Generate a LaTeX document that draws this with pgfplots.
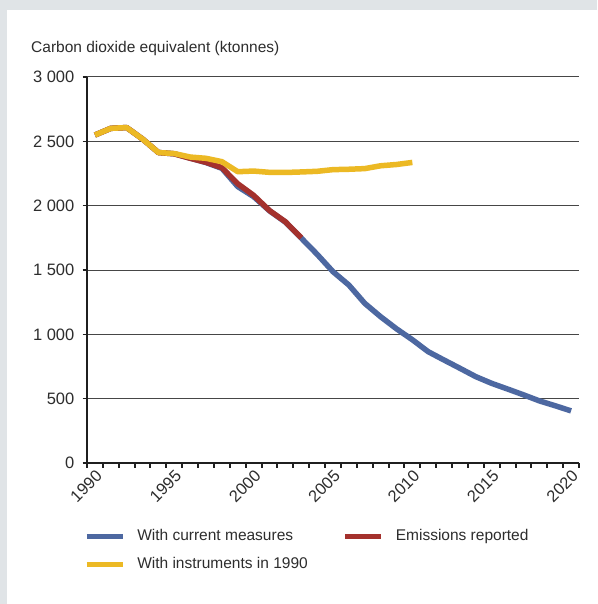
\documentclass[border=0pt]{standalone}
\usepackage{fontspec}
\setmainfont{Liberation Sans}
\usepackage{pgfplots}
\pgfplotsset{compat=1.18}
\definecolor{bgframe}{RGB}{224,228,231}
\definecolor{cblue}{RGB}{77,104,161}
\definecolor{cred}{RGB}{164,49,45}
\definecolor{cyellow}{RGB}{236,185,36}
\definecolor{txt}{RGB}{45,45,45}
\definecolor{gridc}{RGB}{70,70,70}
\begin{document}
\begin{tikzpicture}[x=1pt,y=1pt]
\fill[bgframe] (0,0) rectangle (597,-604);
\fill[white] (7,-10) rectangle (597,-604);
\node[anchor=base west, inner sep=0pt, text=txt, font=\fontsize{15.5}{18}\selectfont] at (31,-53) {Carbon dioxide equivalent (ktonnes)};
\begin{axis}[
  at={(87pt,-463pt)}, anchor=south west,
  scale only axis, width=492pt, height=386pt,
  xmin=1989.5, xmax=2020.5, ymin=0, ymax=3000,
  axis lines*=left,
  axis line style={-, line width=2.6pt, color=black!88},
  tick align=outside,
  major tick length=4.5pt, minor tick length=4.5pt,
  xtick={1990,1995,...,2020},
  xticklabels={1990,1995,2000,2005,2010,2015,2020},
  minor xtick={1989.5,1990.5,...,2020.5},
  major x tick style={draw=none},
  minor x tick style={line width=2pt, color=black!88},
  ytick={0,500,...,3000},
  yticklabels={0,500,1 000,1 500,2 000,2 500,3 000},
  y tick style={line width=1.6pt, color=black!88},
  ymajorgrids,
  major grid style={gridc, line width=1pt},
  tick label style={text=txt, font=\fontsize{16.5}{18}\selectfont},
  xticklabel style={xshift=5pt, yshift=-5pt, rotate=45, anchor=east, inner sep=1pt},
  yticklabel style={inner sep=1pt, xshift=-7pt},
  legend columns=2,
  legend cell align=left,
  legend image code/.code={\draw[#1, line width=5pt] (0pt,0pt) -- (36pt,0pt);},
  legend style={at={(-0.006,-0.171)}, anchor=north west, draw=none, fill=none,
    inner sep=0pt, text=txt, font=\fontsize{15.5}{18}\selectfont,
    nodes={inner sep=0pt, text height=11pt, text depth=3pt},
    row sep=14pt,
    /tikz/every odd column/.append style={column sep=12pt},
    /tikz/every even column/.append style={column sep=35pt}},
]
\addplot[cblue, line width=5.5pt, line join=round] coordinates {
(1990,2549) (1991,2601) (1992,2607) (1993,2518) (1994,2413) (1995,2403)
(1996,2370) (1997,2335) (1998,2290) (1999,2148) (2000,2070) (2001,1960)
(2002,1872) (2003,1748) (2004,1622) (2005,1487) (2006,1383) (2007,1241)
(2008,1137) (2009,1043) (2010,958) (2011,865) (2012,800) (2013,736)
(2014,671) (2015,619) (2016,575) (2017,530) (2018,483) (2019,445) (2020,405)};
\addlegendentry{With current measures}
\addplot[cred, line width=5.5pt, line join=round] coordinates {
(1990,2549) (1991,2601) (1992,2607) (1993,2518) (1994,2413) (1995,2403)
(1996,2368) (1997,2337) (1998,2295) (1999,2170) (2000,2080) (2001,1962)
(2002,1875) (2003,1750)};
\addlegendentry{Emissions reported}
\addplot[cyellow, line width=5.5pt, line join=round] coordinates {
(1990,2549) (1991,2601) (1992,2607) (1993,2518) (1994,2413) (1995,2405)
(1996,2378) (1997,2368) (1998,2342) (1999,2264) (2000,2269) (2001,2259)
(2002,2258) (2003,2262) (2004,2267) (2005,2280) (2006,2283) (2007,2288)
(2008,2310) (2009,2320) (2010,2336)};
\addlegendentry{With instruments in 1990}
\end{axis}
\end{tikzpicture}
\end{document}
